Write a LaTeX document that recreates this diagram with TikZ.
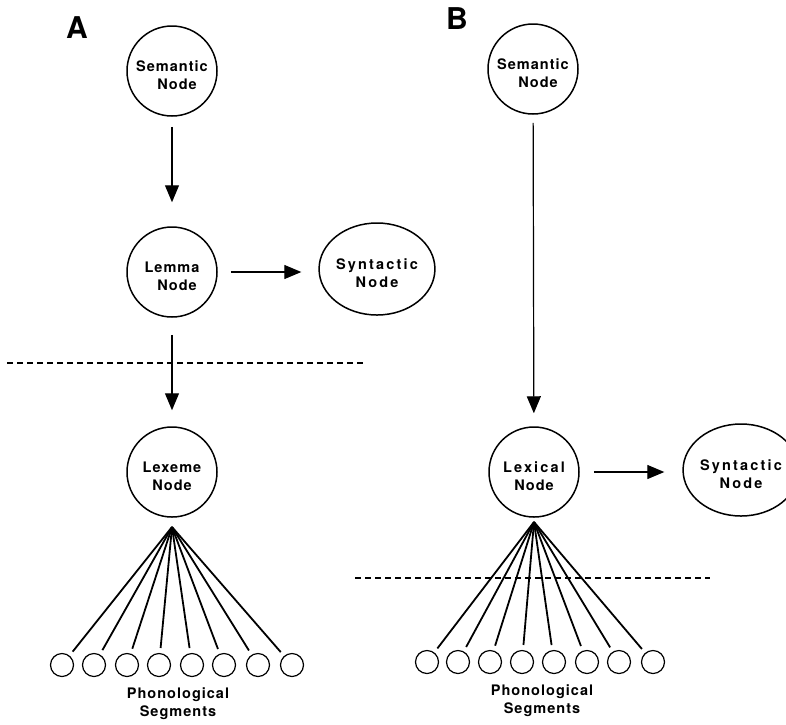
\documentclass[tikz,border=0pt]{standalone}
\usepackage{fontspec}
\setmainfont{TeX Gyre Heros}
\usepackage{tikz}
\usetikzlibrary{arrows.meta,shapes.geometric}
\newcommand{\inkcolor}{black}
\newcommand{\rimwidth}{1.5pt}
\newcommand{\nodefont}{\fontsize{14.5}{18}\selectfont\bfseries\addfontfeature{LetterSpace=7}}
\newcommand{\widefont}{\fontsize{14.5}{18}\selectfont\bfseries\addfontfeature{LetterSpace=15}}

\begin{document}
\begin{tikzpicture}[x=1pt,y=-1pt,
  unit/.style={circle, draw=\inkcolor, line width=\rimwidth, minimum size=90pt, inner sep=0pt, align=center, text height=38pt, font=\nodefont},
  synt/.style={ellipse, draw=\inkcolor, line width=\rimwidth, minimum width=97pt, minimum height=92pt, inner sep=0pt, align=center, text height=38pt, font=\widefont},
  seg/.style={circle, draw=\inkcolor, line width=1.2pt, minimum size=23pt, inner sep=0pt},
  flow/.style={-{Triangle[length=17pt,width=14pt]}, line width=1.2pt, \inkcolor},
  fan/.style={line width=1.8pt, \inkcolor, shorten >=5pt},
  split/.style={line width=1.2pt, dash pattern=on 6pt off 4pt, \inkcolor}]
\useasboundingbox (0,0) rectangle (786,724);
%panel A
\node[font=\fontsize{30}{30}\selectfont\bfseries] (labA) at (77, 28) {A};
\node[unit] (semA) at (172, 71) {Semantic\\ \hspace*{10pt}Node};
\node[unit] (lemA) at (172, 272) {Lemma\\ \hspace*{10pt}Node};
\node[synt] (synA) at (377, 269) {Syntactic\\ Node};
\node[unit] (lexA) at (172, 472) {Lexeme\\ Node};
\coordinate (apexA) at (172, 527);
\node[seg] (a1) at (62, 665) {};
\node[seg] (a2) at (94, 665) {};
\node[seg] (a3) at (127, 665) {};
\node[seg] (a4) at (159, 665) {};
\node[seg] (a5) at (192, 665) {};
\node[seg] (a6) at (224, 665) {};
\node[seg] (a7) at (258, 665) {};
\node[seg] (a8) at (292, 665) {};
\node[align=center, font=\nodefont] (phonA) at (178, 704) {Phonological\\ Segments};
\coordinate (cutAl) at (7, 363);
\coordinate (cutAr) at (363, 363);
\draw[flow, shorten <=10pt, shorten >=24pt] (semA) -- (lemA);
\draw[flow, shorten <=13pt, shorten >=17pt] (lemA) -- (lemA -| synA.west);
\draw[flow, shorten <=17pt, shorten >=16pt] (lemA) -- (lexA);
\draw[split] (cutAl) -- (cutAr);
\draw[fan] (apexA) -- (a1);
\draw[fan] (apexA) -- (a2);
\draw[fan] (apexA) -- (a3);
\draw[fan] (apexA) -- (a4);
\draw[fan] (apexA) -- (a5);
\draw[fan] (apexA) -- (a6);
\draw[fan] (apexA) -- (a7);
\draw[fan] (apexA) -- (a8);
%panel B
\node[font=\fontsize{30}{30}\selectfont\bfseries] (labB) at (457, 19) {B};
\node[unit] (semB) at (533, 69) {Semantic\\ \hspace*{10pt}Node};
\node[unit] (lexB) at (534, 472) {{\widefont Lexical}\\ Node};
\node[synt] (synB) at (741, 470) {Syntactic\\ Node};
\coordinate (apexB) at (534, 522);
\node[seg] (b1) at (427, 662) {};
\node[seg] (b2) at (458, 662) {};
\node[seg] (b3) at (490, 662) {};
\node[seg] (b4) at (522, 662) {};
\node[seg] (b5) at (554, 662) {};
\node[seg] (b6) at (587, 662) {};
\node[seg] (b7) at (619, 662) {};
\node[seg] (b8) at (653, 662) {};
\node[align=center, font=\nodefont] (phonB) at (542, 701) {Phonological\\ Segments};
\coordinate (cutBl) at (355, 578);
\coordinate (cutBr) at (710, 578);
\draw[flow, shorten <=8pt, shorten >=13pt] (semB) -- (lexB);
\draw[flow, shorten <=14pt, shorten >=18pt] (lexB) -- (lexB -| synB.west);
\draw[split] (cutBl) -- (cutBr);
\draw[fan] (apexB) -- (b1);
\draw[fan] (apexB) -- (b2);
\draw[fan] (apexB) -- (b3);
\draw[fan] (apexB) -- (b4);
\draw[fan] (apexB) -- (b5);
\draw[fan] (apexB) -- (b6);
\draw[fan] (apexB) -- (b7);
\draw[fan] (apexB) -- (b8);
\end{tikzpicture}
\end{document}
